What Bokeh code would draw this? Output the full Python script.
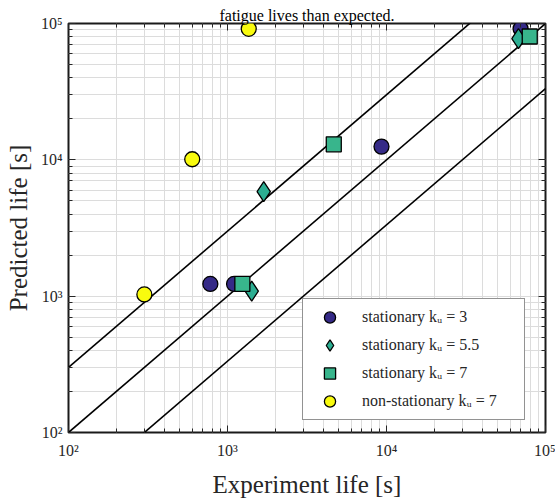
import numpy as np
from bokeh.plotting import figure
from bokeh.models import LogAxis, FixedTicker, Legend, LegendItem, CustomJSTickFormatter
from bokeh.core.properties import value
from bokeh.embed import file_html
from bokeh.resources import INLINE

# ---------------- data ----------------
k3_exp = [780, 1100, 9300, 69700]
k3_pred = [1230, 1230, 12500, 91500]

k55_exp = [1420, 1690, 67600]
k55_pred = [1090, 5850, 77600]

k7_exp = [1240, 4660, 79600]
k7_pred = [1230, 13000, 80300]

ns_exp = [300, 600, 1360]
ns_pred = [1030, 10100, 91400]

ref_x = [1e2, 1e5]
ref_factors = [3.0, 1.0, 1.0 / 3.0]

tick_exponents = [2, 3, 4, 5]
axis_min, axis_max = 1e2, 1e5

legend_labels = ["stationary k\u1d64 = 3", "stationary k\u1d64 = 5.5",
                 "stationary k\u1d64 = 7", "non-stationary k\u1d64 = 7"]

x_title = "Experiment life [s]"
y_title = "Predicted life [s]"
top_text = "fatigue lives than expected."

# ---------------- styling ----------------
SERIF = "Liberation Serif"
TXT = "#262626"
GRID = "#dcdcdc"

p = figure(width=555, height=501, x_axis_type="log", y_axis_type="log",
           x_range=(axis_min, axis_max), y_range=(axis_min, axis_max),
           output_backend="svg", toolbar_location=None,
           min_border_left=68, min_border_right=10, min_border_top=23,
           min_border_bottom=69, background_fill_color="white",
           border_fill_color="white")

major = [10.0 ** e for e in tick_exponents]
minor = [m * 10.0 ** e for e in tick_exponents[:-1] for m in range(2, 10)]

pow10_fmt = CustomJSTickFormatter(code="""
const sup = {"0":"\u2070","1":"\u00b9","2":"\u00b2","3":"\u00b3","4":"\u2074",
             "5":"\u2075","6":"\u2076","7":"\u2077","8":"\u2078","9":"\u2079","-":"\u207b"};
const e = Math.round(Math.log10(tick));
return "10" + String(e).split("").map(c => sup[c]).join("");
""")


def style_axis(ax, labels=False):
    ax.ticker = FixedTicker(ticks=major, minor_ticks=minor)
    ax.major_tick_in = 7
    ax.major_tick_out = 0
    ax.minor_tick_in = 4
    ax.minor_tick_out = 0
    ax.major_tick_line_color = TXT
    ax.minor_tick_line_color = TXT
    ax.major_tick_line_width = 1
    ax.minor_tick_line_width = 1
    ax.axis_line_color = None
    if labels:
        ax.formatter = pow10_fmt
        ax.major_label_text_font = SERIF
        ax.major_label_text_font_size = "16px"
        ax.major_label_text_color = TXT
    else:
        ax.formatter = CustomJSTickFormatter(code="return '';")
        ax.major_label_text_font_size = "1px"
        ax.major_label_standoff = 0


for ax in (p.xaxis[0], p.yaxis[0]):
    style_axis(ax, labels=True)
    ax.axis_label_text_font = SERIF
    ax.axis_label_text_font_style = "normal"
    ax.axis_label_text_font_size = "25px"
    ax.axis_label_text_color = TXT

p.xaxis[0].axis_label = x_title
p.xaxis[0].major_label_standoff = 9
p.xaxis[0].axis_label_standoff = 9
p.yaxis[0].axis_label = y_title
p.yaxis[0].major_label_standoff = 6
p.yaxis[0].axis_label_standoff = 6

top_ax = LogAxis()
right_ax = LogAxis()
style_axis(top_ax)
style_axis(right_ax)
top_ax.axis_label = top_text
top_ax.axis_label_text_font = SERIF
top_ax.axis_label_text_font_style = "normal"
top_ax.axis_label_text_font_size = "16px"
top_ax.axis_label_text_color = "black"
top_ax.axis_label_standoff = 0
p.add_layout(top_ax, "above")
p.add_layout(right_ax, "right")

for g in (p.xgrid[0], p.ygrid[0]):
    g.ticker = FixedTicker(ticks=major, minor_ticks=minor)
    g.grid_line_color = GRID
    g.grid_line_width = 1
    g.minor_grid_line_color = GRID
    g.minor_grid_line_width = 1

p.outline_line_color = "#1a1a1a"
p.outline_line_width = 2

# reference lines y = f * x
for f in ref_factors:
    p.line(ref_x, [f * v for v in ref_x], line_color="black", line_width=1.6)

r1 = p.scatter(k3_exp, k3_pred, marker="circle", size=15,
               fill_color="#352A87", line_color="black", line_width=1.3)
r2 = p.scatter(k55_exp, k55_pred, marker="diamond", size=20,
               fill_color="#2CAE92", line_color="black", line_width=1.3)
r3 = p.scatter(k7_exp, k7_pred, marker="square", size=15,
               fill_color="#38B58C", line_color="black", line_width=1.3)
r4 = p.scatter(ns_exp, ns_pred, marker="circle", size=15,
               fill_color="#F9FB0E", line_color="black", line_width=1.3)

legend = Legend(items=[LegendItem(label=value(lbl), renderers=[r])
                       for lbl, r in zip(legend_labels, (r1, r2, r3, r4))],
                location=(234, 12), padding=4, margin=0,
                glyph_width=45, glyph_height=28, spacing=0,
                label_standoff=10, label_width=158, label_height=28,
                label_text_font=SERIF, label_text_font_size="16px",
                label_text_color=TXT,
                border_line_color=TXT, border_line_width=1.5,
                background_fill_color="white", background_fill_alpha=1.0)
p.add_layout(legend)

open("out.html", "w").write(file_html(p, INLINE))
